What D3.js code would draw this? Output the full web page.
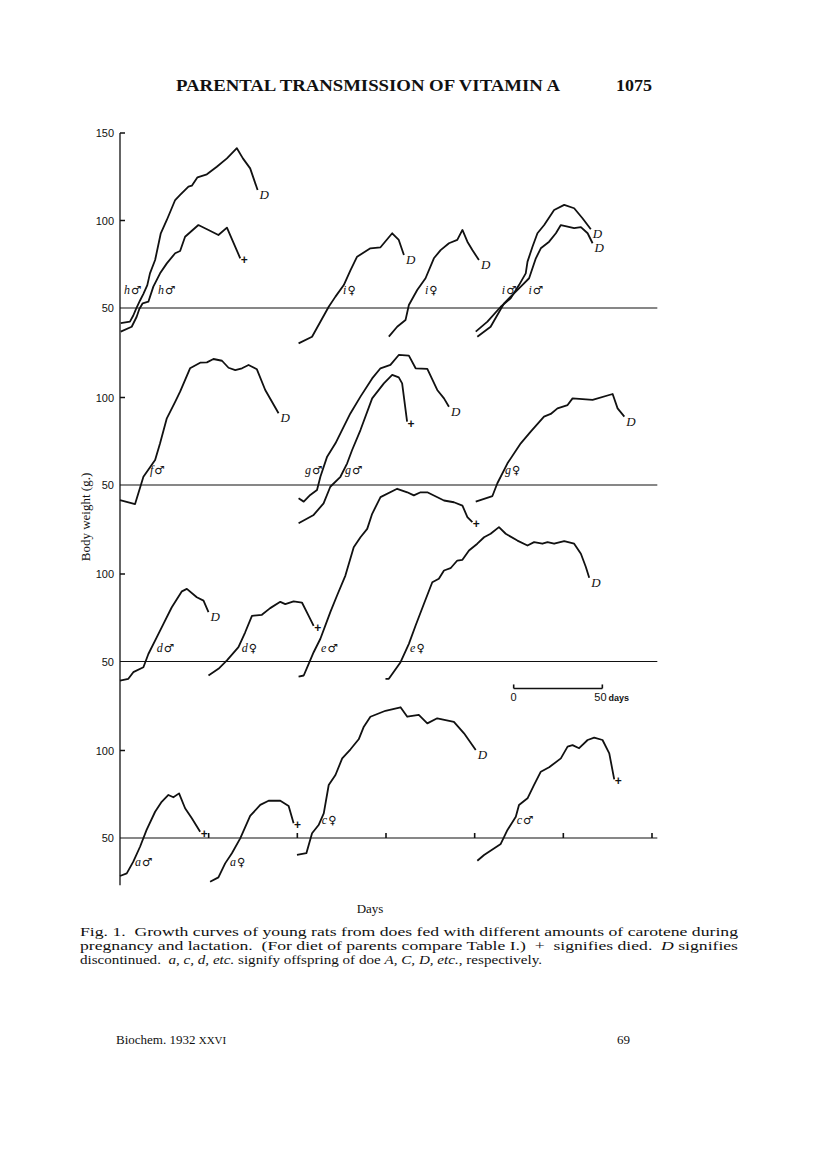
<!DOCTYPE html>
<html>
<head>
  <meta charset="utf-8">
  <title>Parental transmission of vitamin A - Fig. 1</title>
  <script src="https://d3js.org/d3.v7.min.js"></script>
  <style>
    body { margin: 0; background: #fff; }
    svg text { fill: #111; }
  </style>
</head>
<body>
<div id="vis"></div>
<script>
// ---- data: growth curves (day, body weight g) ----
// panel 1 (top)
const hMa_days = [0.4,5.6,7.5,9.0,11.3,13.2,15.4,16.9,19.8,23.0,26.4,31.1,33.9,38.6,40.5,43.7,49.0,54.6,60.3,65.9,69.3,73.4,77.6];
const hMa_wt   = [41.3,42.2,45.7,49.4,54.3,58.1,63.1,69.8,77.4,92.7,100.3,111.7,114.6,119.3,119.9,124.7,126.4,130.7,135.5,141.3,135.5,129.8,117.4];
const hMb_days = [0.4,6.6,9.4,10.9,12.8,16.0,18.8,22.6,26.4,31.1,33.9,36.7,44.2,49.9,55.5,60.3,67.8];
const hMb_wt   = [36.5,39.3,45.0,49.4,52.7,53.6,62.2,69.8,75.5,81.3,82.6,90.7,97.4,94.6,91.7,95.9,78.4];
const iFa_days = [100.7,108.3,117.7,121.5,126.2,130.0,133.7,141.2,146.9,153.5,157.2,160.1];
const iFa_wt   = [29.8,33.6,50.7,56.5,63.1,71.7,79.3,84.1,84.7,92.7,88.9,80.3];
const iFb_days = [151.6,156.3,161.0,162.9,167.6,172.3,177.0,180.8,185.5,190.2,193.1,195.9,198.7,202.4];
const iFb_wt   = [33.6,39.3,43.1,51.7,60.3,67.0,78.4,83.1,87.0,88.9,94.6,87.9,83.1,77.4];
const iMa_days = [200.6,207.2,214.7,220.3,225.0,228.8,229.8,232.6,235.4,239.2,244.8,250.5,256.1,260.8,265.5];
const iMa_wt   = [36.5,42.2,50.7,55.5,63.1,69.8,76.5,85.0,92.7,97.4,106.0,108.9,107.0,101.3,95.0];
const iMb_days = [201.5,209.0,216.6,222.2,226.0,230.7,234.5,237.3,242.0,245.8,248.6,252.4,256.1,259.9,263.7,266.5];
const iMb_wt   = [33.6,39.3,52.7,58.4,62.2,67.0,78.4,84.1,87.9,92.7,97.4,96.5,95.6,96.2,92.7,87.0];
// panel 2
const fM_days  = [0,8.5,13.2,19.8,22.6,26.4,31.1,33.9,39.5,45.2,49.0,52.7,57.5,61.2,65.0,68.8,72.5,77.2,81.9,89.4];
const fM_wt    = [41.4,39.1,54.7,64.3,73.8,88.1,97.5,103.3,116.7,119.9,120.1,122.0,121.0,117.0,115.7,116.7,118.6,116.1,104.3,91.0];
const gMa_days = [100.7,103.6,107.3,111.1,113.0,116.8,121.5,125.2,129.9,135.6,142.2,146.9,152.5,157.2,162.9,166.7,173.3,178.9,182.7,185.5];
const gMa_wt   = [42.4,40.5,44.3,47.1,54.7,66.2,73.8,81.4,90.9,100.5,110.9,116.7,118.6,124.3,123.9,116.7,116.3,104.3,99.5,94.7];
const gMb_days = [100.7,109.2,114.8,118.6,124.3,128.1,130.9,135.6,142.2,148.8,153.5,157.2,159.1,161.9];
const gMb_wt   = [28.1,32.9,39.5,49.0,54.7,62.4,70.0,81.4,99.5,108.1,112.9,111.5,108.1,86.2];
const gF_days  = [200.6,210.0,212.8,218.5,226.0,231.6,239.1,242.9,246.7,252.4,255.2,266.5,277.8,280.6,284.4];
const gF_wt    = [40.5,43.7,51.0,62.4,73.8,80.5,89.1,90.6,93.8,95.7,99.5,98.6,102.0,93.8,89.1];
// panel 3
const dM_days  = [0,4.7,7.5,13.2,16.0,20.7,24.5,29.2,34.9,37.7,43.3,47.1,49.9];
const dM_wt    = [39.1,40.1,43.9,46.7,54.3,63.8,71.5,81.0,90.1,91.5,86.7,84.8,78.2];
const dF_days  = [49.9,55.5,60.3,66.8,70.6,74.4,80.0,84.7,90.4,93.2,97.9,102.6,106.4,109.2];
const dF_wt    = [42.0,45.8,50.6,58.2,66.7,76.1,76.7,80.5,84.1,82.8,84.3,83.7,76.1,70.4];
const eM_days  = [100.7,103.6,106.4,109.2,113.0,118.6,122.4,127.1,131.8,135.6,139.4,142.2,146.9,156.3,162.0,165.7,169.5,173.3,182.7,188.3,193.1,195.9,198.7];
const eM_wt    = [41.4,42.0,48.7,55.3,63.0,78.2,87.7,99.1,115.3,121.0,125.8,134.4,143.9,148.7,146.7,144.9,146.7,146.7,142.0,141.0,139.1,132.5,129.6];
const eF_days  = [149.7,151.6,158.2,162.9,166.7,171.4,176.1,179.8,182.7,186.4,190.2,193.1,196.8,201.5,205.3,209.0,213.7,217.5,224.1,229.8,233.5,238.2,241.1,244.8,250.5,256.1,259.9,262.7,264.6];
const eF_wt    = [40.1,40.1,49.6,60.1,70.6,83.0,95.3,97.3,102.0,103.3,107.7,108.1,113.4,117.3,121.0,123.0,126.8,123.0,119.1,116.3,118.2,117.3,118.2,117.3,118.8,117.3,111.6,104.0,97.8];
// panel 4 (bottom)
const aM_days  = [0,3.8,7.5,11.3,15.0,19.8,23.5,27.3,30.1,33.3,36.7,40.5,45.2];
const aM_wt    = [28.3,29.8,36.5,45.0,54.6,65.0,70.7,74.6,73.3,75.5,67.0,61.3,53.6];
const aF_days  = [50.8,55.5,59.3,63.1,67.8,73.4,79.1,83.8,90.4,95.1,97.9];
const aF_wt    = [25.0,27.5,35.5,41.3,49.8,62.6,68.9,71.3,71.3,68.3,58.4];
const cF_days  = [99.8,105.1,108.3,112.0,114.9,117.7,121.5,125.3,130.0,134.6,137.5,141.2,149.7,158.2,162.0,168.5,173.3,178.9,188.3,194.0,200.6];
const cF_wt    = [40.3,41.3,52.7,57.4,64.1,80.3,86.0,95.5,100.7,106.4,113.6,119.3,122.7,124.7,119.3,120.3,115.5,118.4,116.4,109.8,100.3];
const cM_days  = [201.5,205.3,214.7,218.5,223.2,225.0,229.8,233.5,237.3,242.0,248.6,252.4,255.2,258.9,263.7,267.4,272.1,275.9,278.7];
const cM_wt    = [37.0,40.3,46.6,54.6,62.2,68.9,72.7,80.3,87.9,90.4,95.5,102.2,103.1,101.3,106.0,107.3,106.0,98.4,83.5];

// per-curve attributes: panel, doe letter, sex, end (D = discontinued, + = died), label anchor (day, g)
const curveDays  = [hMa_days,hMb_days,iFa_days,iFb_days,iMa_days,iMb_days, fM_days,gMa_days,gMb_days,gF_days, dM_days,dF_days,eM_days,eF_days, aM_days,aF_days,cF_days,cM_days];
const curveWt    = [hMa_wt,hMb_wt,iFa_wt,iFb_wt,iMa_wt,iMb_wt, fM_wt,gMa_wt,gMb_wt,gF_wt, dM_wt,dF_wt,eM_wt,eF_wt, aM_wt,aF_wt,cF_wt,cM_wt];
const curvePanel = [0,0,0,0,0,0, 1,1,1,1, 2,2,2,2, 3,3,3,3];
const curveDoe   = ["h","h","i","i","i","i", "f","g","g","g", "d","d","e","e", "a","a","c","c"];
const curveSex   = ["m","m","f","f","m","m", "m","m","m","f", "m","f","m","f", "m","f","f","m"];
const curveEnd   = ["D","+","D","D","D","D", "D","D","+","D", "D","+","+","D", "+","+","D","+"];
const labelDay   = [2.3,21.4,125.8,172,215.3,230.3, 16.9,104.3,126.9,217.1, 20.7,68.6,113.4,163.6, 8.5,62,113.8,223.7];
const labelWt    = [58,58,58,58,58,58, 56.3,56.3,56.3,56.3, 55.7,55.7,55.7,55.7, 34,34,58,58];

const yTicksPanel = [[100,150],[100],[100],[100]];
const baseLabel = 50;
const xTickDays = [50,100,150,200,250,300];
const scaleBarDays = [222, 272];

// caption lines; *...* marks italic runs
const caption = [
  "Fig. 1.  Growth curves of young rats from does fed with different amounts of carotene during",
  "pregnancy and lactation.  (For diet of parents compare Table I.)  +  signifies died.  *D* signifies",
  "discontinued.  *a, c, d, etc.* signify offspring of doe *A, C, D, etc.*, respectively."
];
const captionWidths = [658, 658, 462];

// ---- layout ----
const width = 816, height = 1167;
const panelBase = [308, 485, 661.5, 838];
const pxPerG = 1.75;
const serif = "'Liberation Serif', 'DejaVu Serif', serif";
const sans = "'Liberation Sans', Arial, sans-serif";

const svg = d3.select("#vis").append("svg")
  .attr("width", width).attr("height", height);

const x = d3.scaleLinear().domain([0, 300]).range([120, 652]);
const yFor = p => d3.scaleLinear().domain([50, 100]).range([panelBase[p], panelBase[p] - 50 * pxPerG]);
const ys = panelBase.map((b, i) => yFor(i));

// header
svg.append("text").attr("x", 176).attr("y", 91)
  .attr("font-family", serif).attr("font-size", 16).attr("font-weight", "bold")
  .attr("textLength", 384).attr("lengthAdjust", "spacingAndGlyphs")
  .text("PARENTAL TRANSMISSION OF VITAMIN A");
svg.append("text").attr("x", 616).attr("y", 91)
  .attr("font-family", serif).attr("font-size", 16).attr("font-weight", "bold")
  .attr("textLength", 36).attr("lengthAdjust", "spacingAndGlyphs")
  .text("1075");

// y axis line
svg.append("line")
  .attr("x1", x(0)).attr("x2", x(0))
  .attr("y1", ys[0](150)).attr("y2", ys[3](23))
  .attr("stroke", "#111").attr("stroke-width", 1.3);

// baselines at 50 g for each panel
ys.forEach((y, p) => {
  svg.append("line")
    .attr("x1", x(0)).attr("x2", x(303))
    .attr("y1", y(50)).attr("y2", y(50))
    .attr("stroke", "#111").attr("stroke-width", 1.2);
  svg.append("text").attr("x", 114).attr("y", y(50) + 4)
    .attr("text-anchor", "end").attr("font-family", sans).attr("font-size", 11)
    .text(baseLabel);
  yTicksPanel[p].forEach(t => {
    svg.append("line")
      .attr("x1", x(0)).attr("x2", x(0) + 5)
      .attr("y1", y(t)).attr("y2", y(t))
      .attr("stroke", "#111").attr("stroke-width", 1.5);
    svg.append("text").attr("x", 114).attr("y", y(t) + 4)
      .attr("text-anchor", "end").attr("font-family", sans).attr("font-size", 11)
      .text(t);
  });
});

// bottom day ticks
xTickDays.forEach(d => {
  svg.append("line")
    .attr("x1", x(d)).attr("x2", x(d))
    .attr("y1", ys[3](50)).attr("y2", ys[3](50) - 5)
    .attr("stroke", "#111").attr("stroke-width", 1.6);
});

// y axis title
svg.append("text")
  .attr("transform", "translate(90," + 517 + ") rotate(-90)")
  .attr("text-anchor", "middle").attr("font-family", serif).attr("font-size", 13)
  .text("Body weight (g.)");

// curves
const line = d3.line();
curveDays.forEach((days, i) => {
  const y = ys[curvePanel[i]];
  const pts = days.map((d, j) => [x(d), y(curveWt[i][j])]);
  svg.append("path")
    .attr("d", line(pts))
    .attr("fill", "none").attr("stroke", "#111")
    .attr("stroke-width", 1.8).attr("stroke-linejoin", "round");

  const last = pts[pts.length - 1];
  if (curveEnd[i] === "D") {
    svg.append("text").attr("x", last[0] + 2).attr("y", last[1] + 9)
      .attr("font-family", serif).attr("font-style", "italic").attr("font-size", 13)
      .text("D");
  } else {
    svg.append("text").attr("x", last[0] + 4).attr("y", last[1] + 6)
      .attr("text-anchor", "middle").attr("font-family", sans).attr("font-weight", "bold")
      .attr("font-size", 12).text("+");
  }

  const lab = svg.append("text")
    .attr("x", x(labelDay[i])).attr("y", y(labelWt[i]))
    .attr("font-size", 12);
  lab.append("tspan").attr("font-family", serif).attr("font-style", "italic")
    .text(curveDoe[i]);
  lab.append("tspan").attr("font-family", "'DejaVu Sans', sans-serif").attr("font-size", 11.5)
    .attr("font-weight", "bold").attr("dx", 1)
    .text(curveSex[i] === "m" ? "\u2642" : "\u2640");
});

// 50-day scale bar
const sbY = ys[2](34.6);
svg.append("line")
  .attr("x1", x(scaleBarDays[0])).attr("x2", x(scaleBarDays[1]))
  .attr("y1", sbY).attr("y2", sbY)
  .attr("stroke", "#111").attr("stroke-width", 1.6);
scaleBarDays.forEach(d => {
  svg.append("line").attr("x1", x(d)).attr("x2", x(d))
    .attr("y1", sbY).attr("y2", sbY - 4)
    .attr("stroke", "#111").attr("stroke-width", 1.6);
});
svg.append("text").attr("x", x(scaleBarDays[0])).attr("y", sbY + 13)
  .attr("text-anchor", "middle").attr("font-family", sans).attr("font-size", 11)
  .text("0");
svg.append("text").attr("x", x(scaleBarDays[1]) - 8).attr("y", sbY + 13)
  .attr("font-family", sans).attr("font-size", 11)
  .text("50")
  .append("tspan").attr("font-size", 9).attr("font-weight", "bold").attr("dx", 2).text("days");

// x axis title
svg.append("text").attr("x", 370).attr("y", 913)
  .attr("text-anchor", "middle").attr("font-family", serif).attr("font-size", 13)
  .text("Days");

// caption
caption.forEach((t, i) => {
  const tx = svg.append("text").attr("x", 80).attr("y", 936 + i * 14)
    .attr("font-family", serif).attr("font-size", 13.5)
    .attr("textLength", captionWidths[i]).attr("lengthAdjust", "spacingAndGlyphs")
    .attr("xml:space", "preserve");
  t.split("*").forEach((seg, k) => {
    const sp = tx.append("tspan").text(seg);
    if (k % 2 === 1) sp.attr("font-style", "italic");
  });
});

// footer
svg.append("text").attr("x", 116).attr("y", 1044)
  .attr("font-family", serif).attr("font-size", 13)
  .text("Biochem. 1932 ")
  .append("tspan").attr("font-size", 11).text("XXVI");
svg.append("text").attr("x", 617).attr("y", 1044)
  .attr("font-family", serif).attr("font-size", 13)
  .text("69");
</script>
</body>
</html>
